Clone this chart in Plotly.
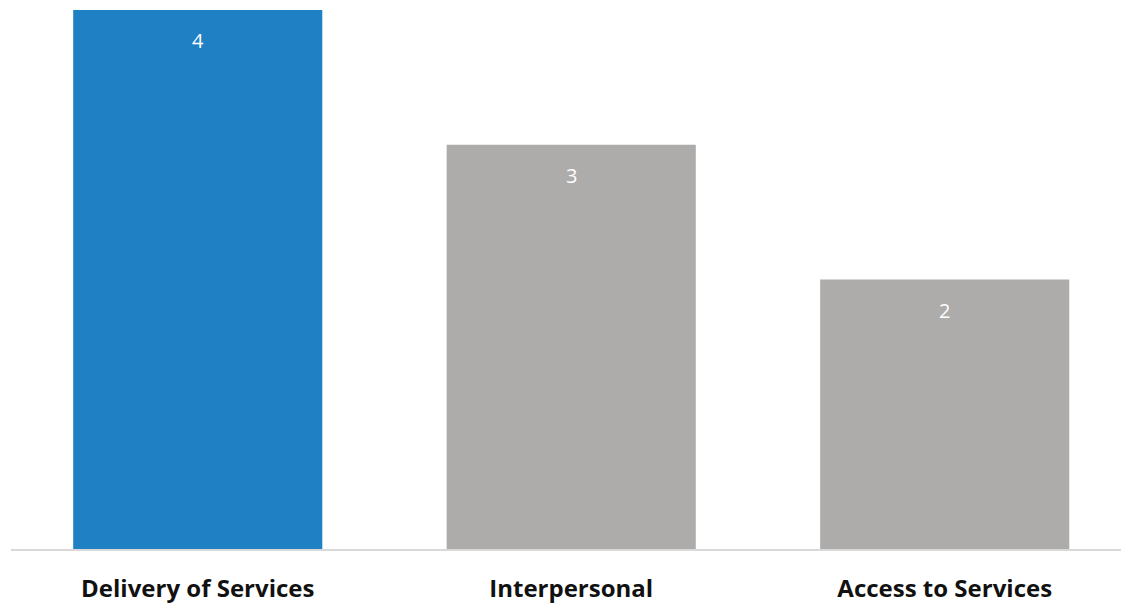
import plotly.graph_objects as go

categories = ["Delivery of Services", "Interpersonal", "Access to Services"]
counts = [4, 3, 2]
bar_colors = ["#1F80C4", "#ADACAA", "#ADACAA"]

fig = go.Figure()
fig.add_trace(go.Bar(
    x=categories,
    y=counts,
    marker=dict(color=bar_colors, line=dict(width=0)),
    hoverinfo="skip",
))

# value labels sitting just inside the top of each bar
for cat, val in zip(categories, counts):
    fig.add_annotation(
        x=cat, y=val, text=str(val), showarrow=False,
        yanchor="middle", yshift=-31,
        font=dict(family="Open Sans", size=20, color="white"),
    )

fig.update_layout(
    width=1121, height=603,
    margin=dict(l=11, r=0, t=0, b=54, autoexpand=False),
    paper_bgcolor="white", plot_bgcolor="white",
    bargap=0.333,
    showlegend=False,
    xaxis=dict(
        type="category",
        range=[-0.5, 2.472],
        automargin=False,
        showline=True, linecolor="#D9D9D9", linewidth=2,
        showgrid=False, zeroline=False,
        ticks="", ticklabelstandoff=17,
        tickfont=dict(family="Open Sans", size=24, color="#111111", weight="bold"),
    ),
    yaxis=dict(
        range=[0, 4.074],
        automargin=False,
        visible=False, showgrid=False, zeroline=False,
    ),
)

fig.write_html("out.html")
